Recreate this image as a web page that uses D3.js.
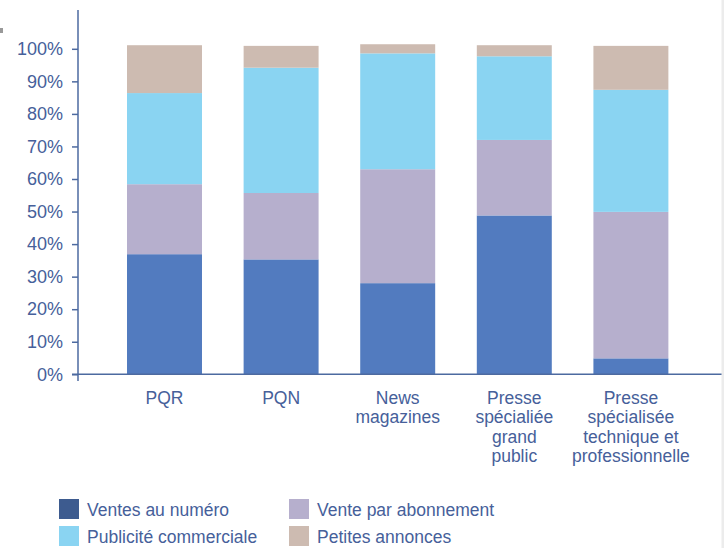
<!DOCTYPE html>
<html><head><meta charset="utf-8">
<script src="https://cdn.jsdelivr.net/npm/d3@7"></script>
<style>
html,body{margin:0;padding:0;background:#fff;}
svg{display:block;font-family:"Liberation Sans",Arial,sans-serif;}
</style></head>
<body><svg id="c" width="724" height="548"></svg>
<script>
const categories = [
  ["PQR"],
  ["PQN"],
  ["News","magazines"],
  ["Presse","spécialiée","grand","public"],
  ["Presse","spécialisée","technique et","professionnelle"]
];
const seriesNames = ["Ventes au numéro","Vente par abonnement","Publicité commerciale","Petites annonces"];
const ventesNumero   = [36.9, 35.3, 28.0, 48.8, 4.9];
const venteAbonnement= [21.5, 20.4, 35.0, 23.2, 45.0];
const publicite      = [28.0, 38.5, 35.6, 25.7, 37.5];
const petitesAnnonces= [14.7, 6.7, 2.8, 3.4, 13.5];
const yTicks = [0,10,20,30,40,50,60,70,80,90,100];
const barColors = ["#527bbf","#b6afcd","#8ad4f2","#cdbbb1"];
const legendColors = ["#3d5b8f","#b6afcd","#8ad4f2","#cdbbb1"];
const textColor = "#46609a";
const axisColor = "#4d6aa0";

const svg = d3.select("#c");
const keys = ["v","a","p","t"];
const table = categories.map((c,i)=>({cat:c.join(" "), v:ventesNumero[i], a:venteAbonnement[i], p:publicite[i], t:petitesAnnonces[i]}));
const stacked = d3.stack().keys(keys)(table);

const x = d3.scaleBand().domain(table.map(d=>d.cat)).range([106.2, 689.2]).paddingInner(0.357).paddingOuter(0.1785);
const y = d3.scaleLinear().domain([0,100]).range([374.3, 48.8]);

// bars
svg.append("g").selectAll("g").data(stacked).join("g")
  .attr("fill",(d,i)=>barColors[i])
  .selectAll("rect").data(d=>d).join("rect")
  .attr("x",d=>x(d.data.cat))
  .attr("width",x.bandwidth())
  .attr("y",d=>y(d[1]))
  .attr("height",d=>y(d[0])-y(d[1]));

// y axis
const yAxis = d3.axisLeft(y).tickValues(yTicks).tickFormat(d=>d+"%").tickSize(6).tickPadding(9);
const gy = svg.append("g").attr("transform","translate(78,0)").call(yAxis);
gy.select(".domain").remove();
gy.selectAll(".tick line").attr("stroke",axisColor).attr("stroke-width",1.5);
gy.selectAll(".tick text").attr("fill",textColor).style("font-size","18px").attr("font-family","Liberation Sans, Arial, sans-serif");

// axis lines
svg.append("line").attr("x1",78).attr("x2",78).attr("y1",10).attr("y2",381).attr("stroke",axisColor).attr("stroke-width",1.5);
svg.append("line").attr("x1",72).attr("x2",724).attr("y1",y(0)).attr("y2",y(0)).attr("stroke",axisColor).attr("stroke-width",1.5);

// category labels
const lab = svg.append("g").attr("fill",textColor).style("font-size","17.5px").attr("text-anchor","middle");
categories.forEach((lines,i)=>{
  const cx = x(table[i].cat)+x.bandwidth()/2;
  const t = lab.append("text").attr("x",cx).attr("y",404);
  lines.forEach((ln,j)=>t.append("tspan").attr("x",cx).attr("dy", j===0?0:19.3).text(ln));
});

// legend
const legPos = [[59,499],[289,499],[59,526],[289,526]];
const lg = svg.append("g");
seriesNames.forEach((n,i)=>{
  const [lx,ly] = legPos[i];
  lg.append("rect").attr("x",lx).attr("y",ly).attr("width",20).attr("height",20).attr("fill",legendColors[i]);
  lg.append("text").attr("x",lx+28).attr("y",ly+16.5).attr("fill",textColor).style("font-size","17.5px").text(n);
});

// small decorative marks at edges of the scan
svg.append("rect").attr("x",0).attr("y",28).attr("width",3).attr("height",5).attr("fill","#999");
svg.append("rect").attr("x",721.5).attr("y",0).attr("width",2.5).attr("height",548).attr("fill","#ececec");
</script></body></html>
